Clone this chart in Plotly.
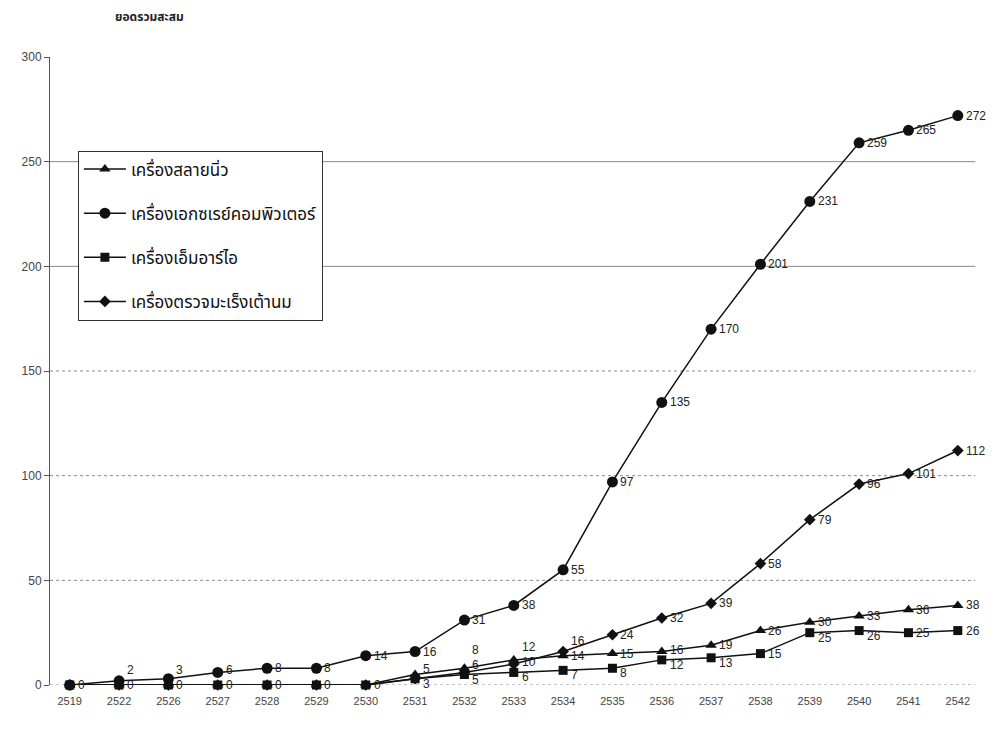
import plotly.graph_objects as go

# Buddhist-era years on the category axis
years = ["2519", "2522", "2526", "2527", "2528", "2529", "2530", "2531", "2532", "2533",
         "2534", "2535", "2536", "2537", "2538", "2539", "2540", "2541", "2542"]

# Cumulative number of machines per type
lithotripter = [0, 0, 0, 0, 0, 0, 0, 5, 8, 12, 14, 15, 16, 19, 26, 30, 33, 36, 38]
ct_scanner = [0, 2, 3, 6, 8, 8, 14, 16, 31, 38, 55, 97, 135, 170, 201, 231, 259, 265, 272]
mri = [0, 0, 0, 0, 0, 0, 0, 3, 5, 6, 7, 8, 12, 13, 15, 25, 26, 25, 26]
mammogram = [0, 0, 0, 0, 0, 0, 0, 3, 6, 10, 16, 24, 32, 39, 58, 79, 96, 101, 112]

series_names = ["เครื่องสลายนิ่ว", "เครื่องเอกซเรย์คอมพิวเตอร์", "เครื่องเอ็มอาร์ไอ", "เครื่องตรวจมะเร็งเต้านม"]
series_values = [lithotripter, ct_scanner, mri, mammogram]
series_symbols = ["triangle-up", "circle", "square", "diamond"]
series_sizes = [10, 11, 9, 9]
# zero labels are only printed for the circle and square series
show_zero = [False, True, True, False]

y_ticks = [0, 50, 100, 150, 200, 250, 300]
grid_levels = [0, 50, 100, 150, 200, 250]

THAI_FONT = "Noto Sans Thai, Loma, Garuda, Tlwg Typo, Noto Sans, sans-serif"
NUM_FONT = "Liberation Sans, Arial, sans-serif"

W, H = 1000, 731
M_L, M_R, M_T, M_B = 50, 20, 57, 46
Y_MAX = 300
px_per_unit = (H - M_T - M_B) / Y_MAX
LABEL_GAP = 15   # minimum vertical distance between value labels, px
LABEL_DROP = 5   # how far the lowest label of a crowded group may sit below its point, px

fig = go.Figure()
for i, (name, vals, sym, sz) in enumerate(zip(series_names, series_values, series_symbols, series_sizes)):
    fig.add_trace(go.Scatter(
        x=years, y=vals, name=name, mode="lines+markers",
        line=dict(color="#111111", width=1.5),
        marker=dict(symbol=sym, size=sz, color="#111111"),
        cliponaxis=False, legendgroup=f"g{i}",
    ))


def stack_labels(own, base):
    pos = [base]
    for o in own[1:]:
        pos.append(max(o, pos[-1] + LABEL_GAP))
    return pos


# value labels to the right of each point; crowded labels are spread apart
for k, yr in enumerate(years):
    entries = []
    for i, vals in enumerate(series_values):
        v = vals[k]
        if v == 0 and not show_zero[i]:
            continue
        if v not in entries:
            entries.append(v)
    entries.sort()
    own = [v * px_per_unit for v in entries]
    pos = stack_labels(own, own[0])
    if any(p > o for p, o in zip(pos, own)) and entries[0] > 0:
        pos = stack_labels(own, max(own[0] - LABEL_DROP, 0.0))
    for v, o, p in zip(entries, own, pos):
        # category axis: the annotation x is the category index
        fig.add_annotation(x=k, y=v, text=str(v), showarrow=False,
                           xanchor="left", yanchor="middle", xshift=7,
                           yshift=p - o, borderpad=0,
                           font=dict(family=NUM_FONT, size=12, color="#222222"))

for lv in grid_levels:
    fig.add_shape(type="line", xref="paper", yref="y", x0=0, x1=0.995, y0=lv, y1=lv,
                  line=dict(color="#8a8a8a", width=1, dash="dot" if lv < 200 else "solid"),
                  layer="below")

fig.add_annotation(text="<b>ยอดรวมสะสม</b>", xref="paper", yref="paper", x=0.068, y=1.064,
                   xanchor="left", yanchor="middle", showarrow=False,
                   font=dict(family=THAI_FONT, size=12, color="#222222"))

fig.update_layout(
    width=W, height=H,
    margin=dict(l=M_L, r=M_R, t=M_T, b=M_B),
    paper_bgcolor="white", plot_bgcolor="white",
    showlegend=True,
    legend=dict(x=0.03, y=0.851, xanchor="left", yanchor="top",
                bgcolor="white", bordercolor="#333333", borderwidth=1,
                font=dict(family=THAI_FONT, size=17, color="#111111"),
                tracegroupgap=19, itemwidth=42),
    xaxis=dict(type="category", range=[-0.4, 18.45], showgrid=False, showline=False,
               zeroline=False, ticks="", ticklabelstandoff=8,
               tickfont=dict(family=NUM_FONT, size=11, color="#444444")),
    yaxis=dict(range=[0, Y_MAX], tickvals=y_ticks, showgrid=False, zeroline=False,
               showline=True, linecolor="#555555", linewidth=1,
               ticks="outside", ticklen=5, tickcolor="#555555",
               tickfont=dict(family=NUM_FONT, size=12, color="#444444")),
)

fig.write_html("out.html")
